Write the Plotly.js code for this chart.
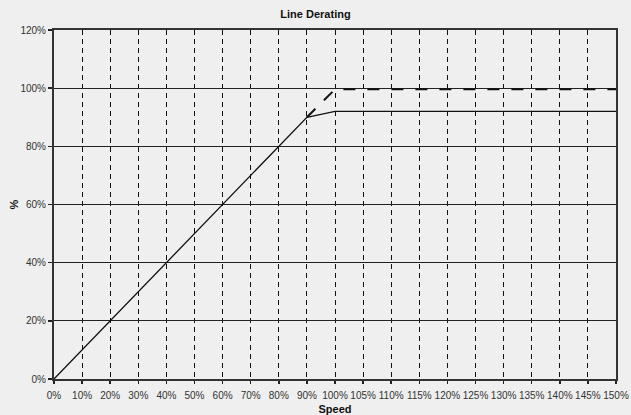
<!DOCTYPE html>
<html><head><meta charset="utf-8">
<script src="https://cdn.plot.ly/plotly-3.0.1.min.js"></script>
<style>html,body{margin:0;padding:0;background:#eeefee;}</style>
</head><body>
<div id="chart" style="width:631px;height:415px;"></div>
<script>
const speedCats = ["0%","10%","20%","30%","40%","50%","60%","70%","80%","90%","100%","105%","110%","115%","120%","125%","130%","135%","140%","145%","150%"];
const deratedValues = [0,10,20,30,40,50,60,70,80,90,92,92,92,92,92,92,92,92,92,92,92];
const ratedCats = ["90%","100%","105%","110%","115%","120%","125%","130%","135%","140%","145%","150%"];
const ratedValues = [90,99.6,99.6,99.6,99.6,99.6,99.6,99.6,99.6,99.6,99.6,99.6];
const yTickVals = [0,20,40,60,80,100,120];
const yTickText = ["0%","20%","40%","60%","80%","100%","120%"];

const font = "'Liberation Sans Narrow', 'Arial Narrow', 'Liberation Sans', sans-serif";
const traces = [
  {x: speedCats, y: deratedValues, type: "scatter", mode: "lines",
   line: {color: "#111", width: 1.3}, hoverinfo: "skip"},
  {x: ratedCats, y: ratedValues, type: "scatter", mode: "lines",
   line: {color: "#111", width: 2, dash: "12px,12px"}, hoverinfo: "skip"}
];
const layout = {
  width: 631, height: 415,
  paper_bgcolor: "#eeefee", plot_bgcolor: "#eeefee",
  margin: {l: 54, r: 15, t: 30, b: 36},
  showlegend: false,
  font: {family: font, size: 10, color: "#333"},
  title: {text: "<b>Line Derating</b>", font: {family: font, size: 11, color: "#111"}, x: 0.5, xanchor: "center", y: 0.975, yanchor: "top"},
  xaxis: {
    type: "category", categoryorder: "array", categoryarray: speedCats,
    range: [0, 20], showgrid: true, gridcolor: "#111", gridwidth: 1, griddash: "5px,4px",
    ticks: "outside", ticklen: 3, tickwidth: 1.5, tickcolor: "#222", ticklabelstandoff: 3,
    showline: true, linecolor: "#333", linewidth: 2, mirror: true,
    zeroline: false, tickfont: {family: font, size: 10, color: "#333"},
    title: {text: "<b>Speed</b>", font: {family: font, size: 11, color: "#111"}, standoff: 6}
  },
  yaxis: {
    range: [0, 120], tickvals: yTickVals, ticktext: yTickText,
    showgrid: true, gridcolor: "#222", gridwidth: 1,
    ticks: "outside", ticklen: 4, tickwidth: 1.5, tickcolor: "#222",
    showline: true, linecolor: "#333", linewidth: 2, mirror: true,
    zeroline: false, tickfont: {family: font, size: 10, color: "#333"},
    title: {text: "<b>%</b>", font: {family: font, size: 11, color: "#111"}, standoff: 0}
  }
};
Plotly.newPlot("chart", traces, layout, {displayModeBar: false, staticPlot: true});
</script>
</body></html>
